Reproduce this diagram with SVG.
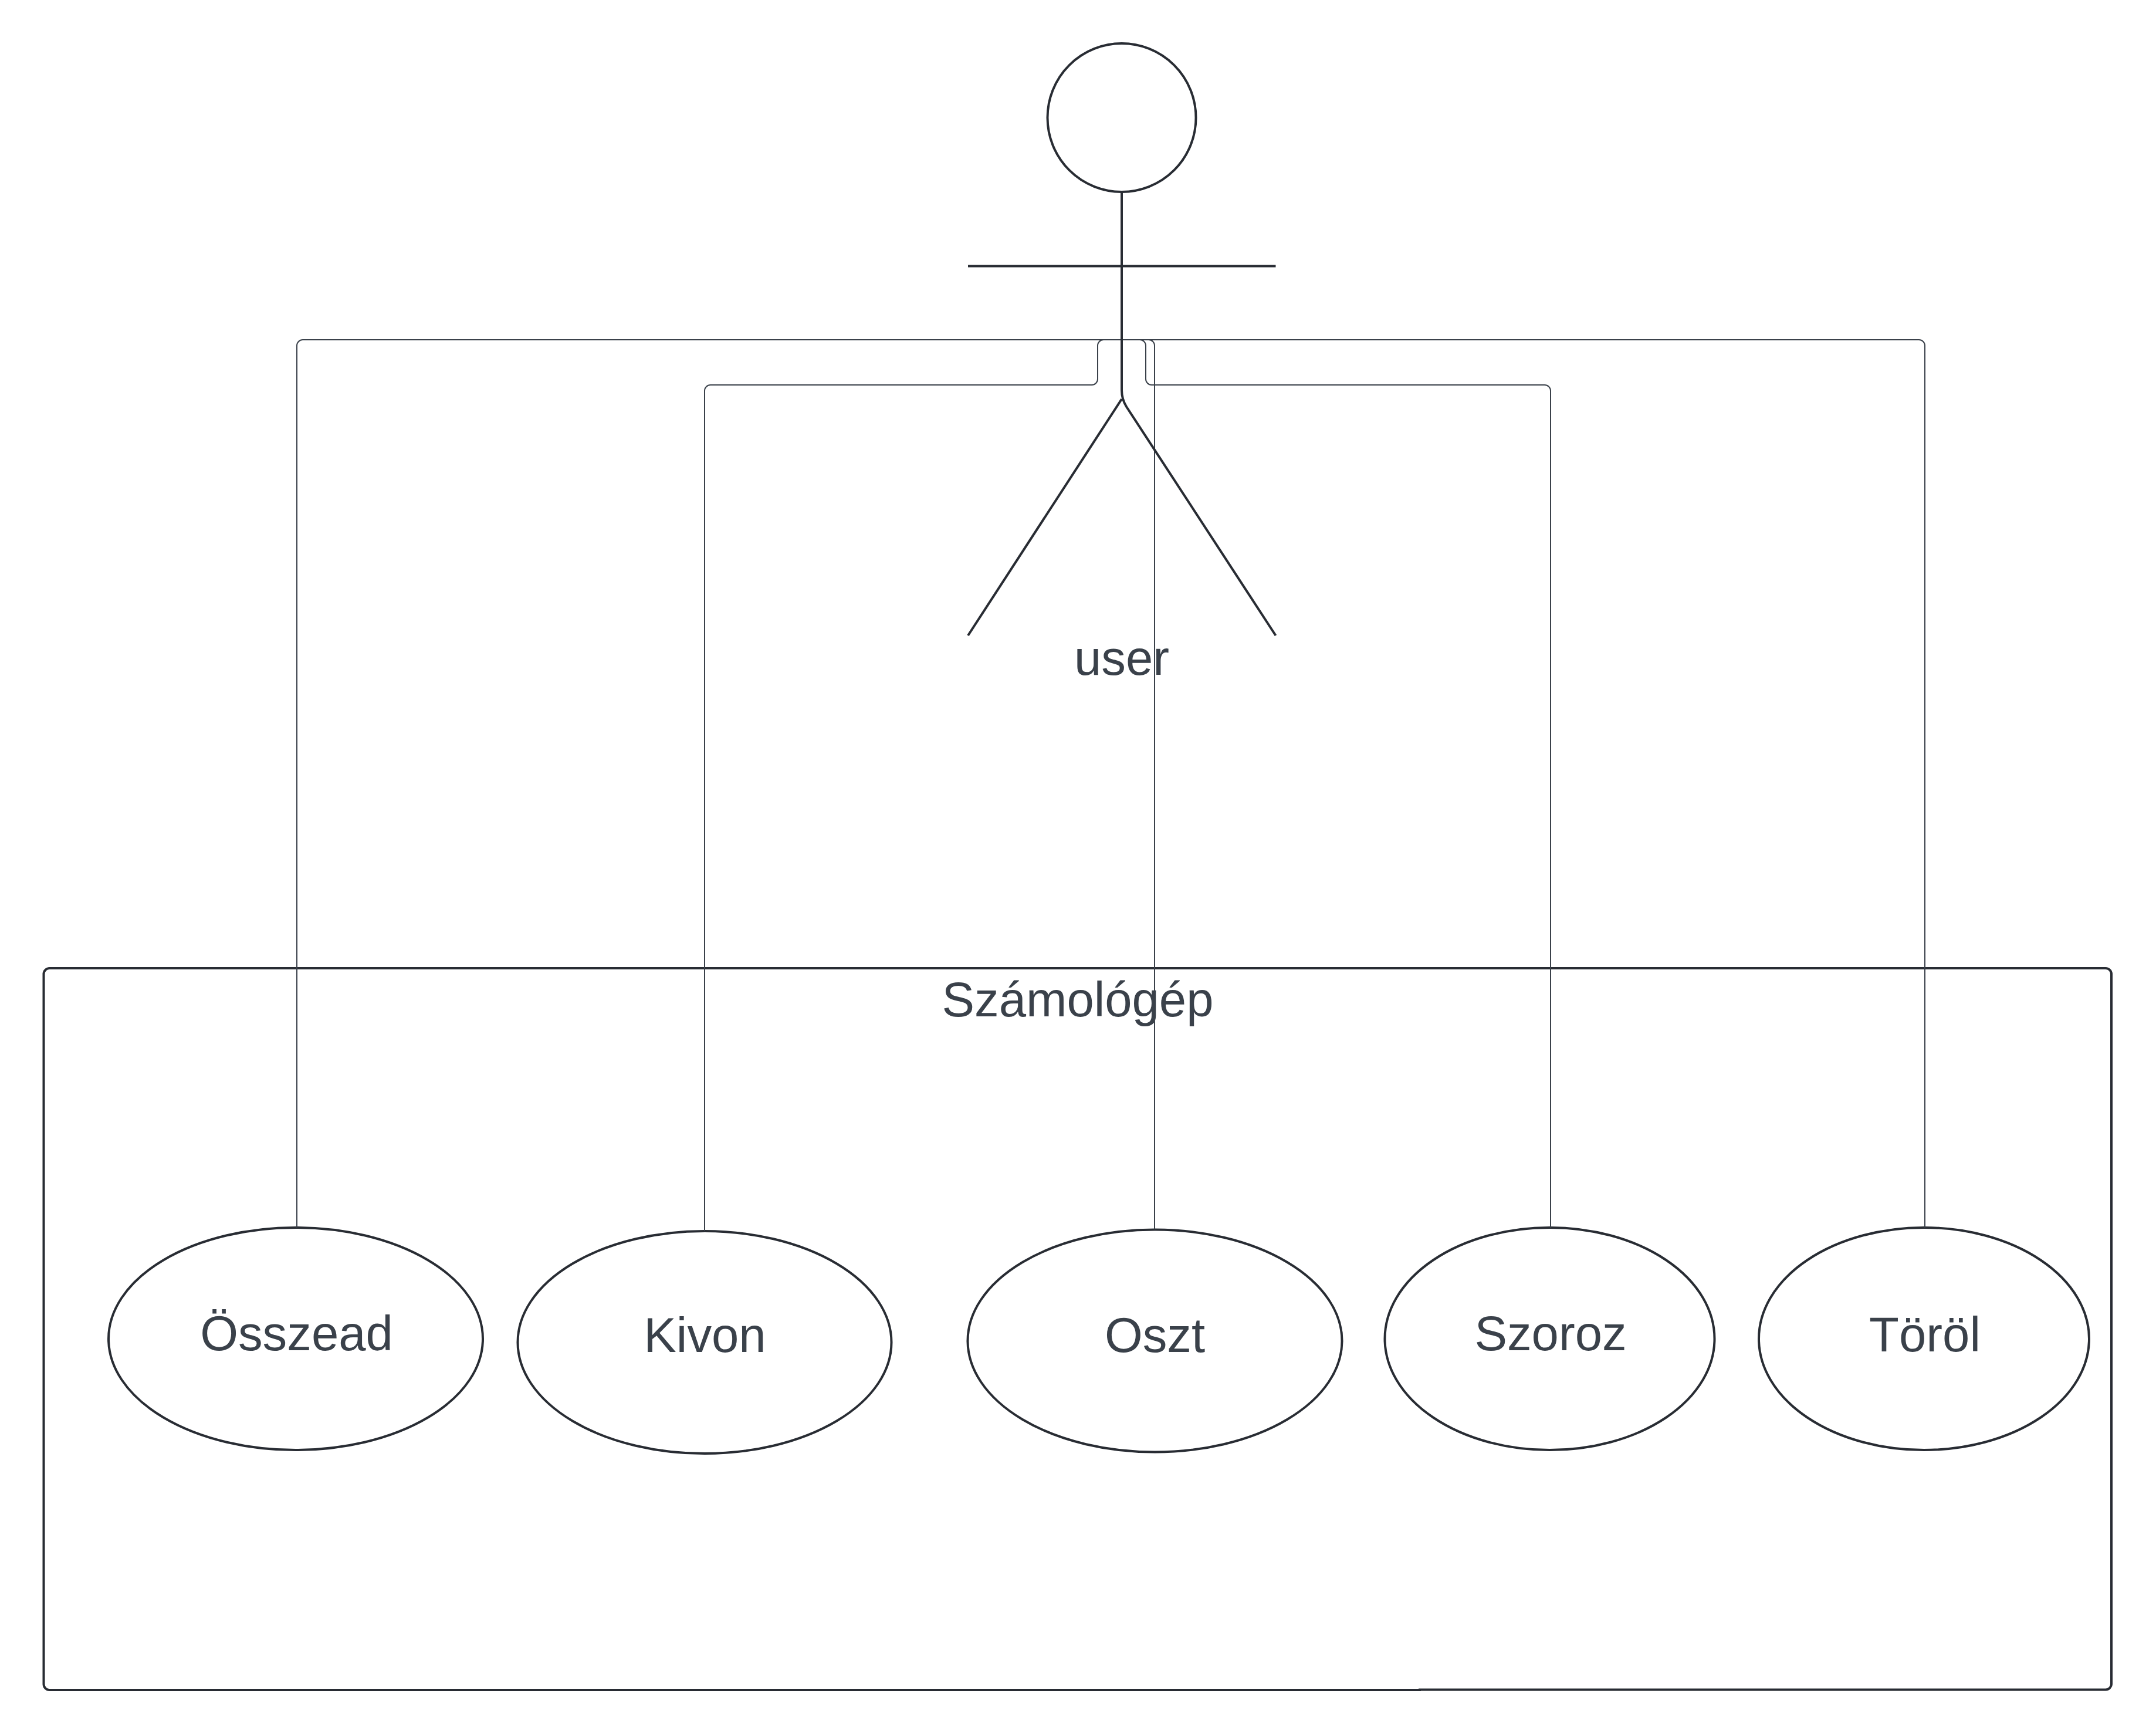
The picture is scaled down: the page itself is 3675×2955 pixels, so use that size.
<svg xmlns="http://www.w3.org/2000/svg" width="3675" height="2955" viewBox="0 0 3675 2955">
<style>
text{font-family:"Liberation Sans",Arial,sans-serif;font-size:83.3px;fill:#3a414a;text-anchor:middle}
.s{fill:#fff;stroke:#282c33;stroke-width:4}
.a{fill:none;stroke:#282c33;stroke-width:4}
.c{fill:none;stroke:#3a414a;stroke-width:2}
</style>
<rect width="3675" height="2955" fill="#fff"/>
<g id="frame">
<path class="s" d="M84.5 1650H3589a10 10 0 0 1 10 10V2870a10 10 0 0 1-10 9.500H2420V2880H84.500a10 10 0 0 1-10-10V1660a10 10 0 0 1 10-10Z"/>
<text x="1837" y="1731.500">Számológép</text>
</g>
<g id="osszead"><ellipse class="s" cx="504" cy="2281.500" rx="319" ry="189.500"/><text x="505.500" y="2301">Összead</text></g>
<g id="kivon"><ellipse class="s" cx="1201" cy="2287.500" rx="318.500" ry="189.500"/><text x="1201.500" y="2304">Kivon</text></g>
<g id="oszt"><ellipse class="s" cx="1968.500" cy="2285" rx="319" ry="189.500"/><text x="1968.500" y="2304">Oszt</text></g>
<g id="szoroz"><ellipse class="s" cx="2641.500" cy="2281.500" rx="281" ry="189.500"/><text x="2643" y="2301">Szoroz</text></g>
<g id="torol"><ellipse class="s" cx="3279.500" cy="2281.500" rx="281.500" ry="189.500"/><text x="3281" y="2303">Töröl</text></g>
<g id="connectors">
<path class="c" d="M1912 579H516a10 10 0 0 0-10 10V2092"/>
<path class="c" d="M1912 579H1881a10 10 0 0 0-10 10V646a10 10 0 0 1-10 10H1211a10 10 0 0 0-10 10V2098"/>
<path class="c" d="M1912 579H1958a10 10 0 0 1 10 10V2095"/>
<path class="c" d="M1912 579H1943a10 10 0 0 1 10 10V646a10 10 0 0 0 10 10H2633a10 10 0 0 1 10 10V2092"/>
<path class="c" d="M1912 579H3271a10 10 0 0 1 10 10V2092"/>
</g>
<g id="user">
<circle class="s" cx="1912" cy="200.500" r="126.500"/>
<path class="a" d="M1650 453.500H2174.500"/>
<path class="a" d="M1912 327V665Q1912 680 1920 693L2174.500 1083"/>
<path class="a" d="M1912 680L1650 1083"/>
<text x="1912" y="1150">user</text>
</g>
</svg>
